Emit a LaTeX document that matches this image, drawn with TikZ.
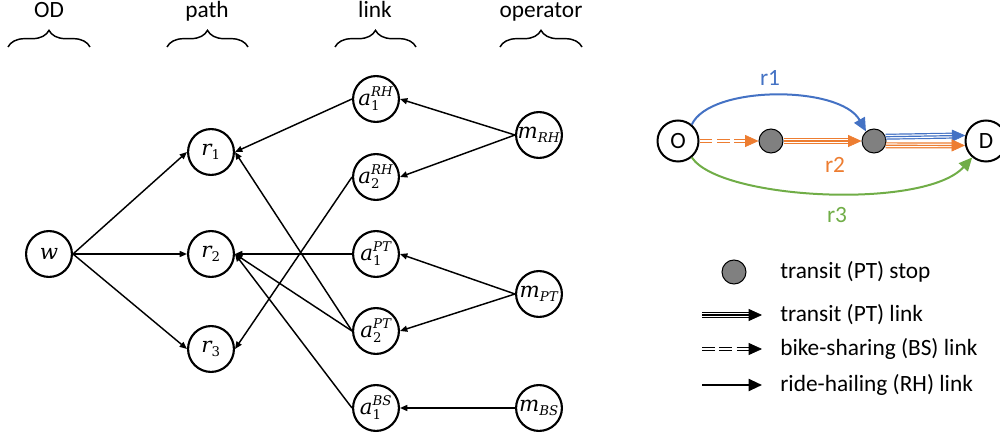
\documentclass[tikz,border=0pt]{standalone}
\usepackage{amsmath}
\usepackage{fontspec}
\setmainfont{Carlito}
\newfontfamily\lblfont{DejaVu Serif}
\newcommand\lbi[1]{\text{\lblfont\itshape #1}}
\newcommand\lbu[1]{\text{\lblfont #1}}
\DeclareMathSizes{16}{16}{10}{8}
\usetikzlibrary{arrows.meta,decorations.pathreplacing,calc}
\definecolor{cblue}{RGB}{68,114,196}
\definecolor{corange}{RGB}{237,125,49}
\definecolor{cgreen}{RGB}{112,173,71}
\definecolor{cstop}{RGB}{128,128,128}
\begin{document}
\begin{tikzpicture}[x=0.75pt,y=-0.75pt,
  every node/.style={inner sep=0pt},
  vnode/.style={circle, draw, line width=1.6pt, minimum size=34.4pt, font=\fontsize{16}{19}\selectfont},
  edge/.style={line width=1.1pt, -{Triangle[length=5.5pt,width=4.5pt]}},
  hdr/.style={font=\fontsize{17.5}{21}\selectfont, anchor=base},
  hbrace/.style={decorate, decoration={brace, amplitude=12.5pt}, line width=1.1pt},
  lbl/.style={font=\fontsize{17.5}{21}\selectfont},
  odnode/.style={circle, draw, line width=1.5pt, minimum size=30.75pt, font=\fontsize{17.5}{21}\selectfont},
  stopnode/.style={circle, draw, line width=0.75pt, fill=cstop, minimum size=18pt},
  bigtip/.style={-{Triangle[length=10pt,width=9pt]}, line width=0.5pt},
  tri/.style={draw=#1, line width=4.5pt, shorten >=7pt, postaction={draw=white, line width=2.7pt}, postaction={draw=#1, line width=0.9pt}},
  ddash/.style={draw=#1, double=white, line width=1.1pt, double distance=1.5pt, dash pattern=on 9.5pt off 3.5pt, shorten >=7pt},
  arc/.style={line width=1.5pt, -{Triangle[length=10pt,width=9pt]}},
]
\clip (0,0) rectangle (1000,438);
% headings
\node[hdr] (hOD) at (49,18) {OD};
\node[hdr] (hpath) at (207,18) {path};
\node[hdr] (hlink) at (375,18) {link};
\node[hdr] (hop) at (541,18) {operator};
\draw[hbrace] (8,47) -- (90,47);
\draw[hbrace] (167,47) -- (248,47);
\draw[hbrace] (335,47) -- (416,47);
\draw[hbrace] (500,47) -- (582,47);
% nodes
\node[vnode] (w) at (49,254) {$\lbi{w}$};
\node[vnode] (r1) at (211,152) {$\lbi{r}_{\lbu{1}}$};
\node[vnode] (r2) at (211,254) {$\lbi{r}_{\lbu{2}}$};
\node[vnode] (r3) at (211,349) {$\lbi{r}_{\lbu{3}}$};
\node[vnode] (a1RH) at (376,99) {$\lbi{a}_{\lbu{1}}^{\lbi{RH}}$};
\node[vnode] (a2RH) at (376,177) {$\lbi{a}_{\lbu{2}}^{\lbi{RH}}$};
\node[vnode] (a1PT) at (376,254) {$\lbi{a}_{\lbu{1}}^{\lbi{PT}}$};
\node[vnode] (a2PT) at (376,331) {$\lbi{a}_{\lbu{2}}^{\lbi{PT}}$};
\node[vnode] (a1BS) at (376,408) {$\lbi{a}_{\lbu{1}}^{\lbi{BS}}$};
\node[vnode] (mRH) at (539,135) {$\lbi{m}_{\lbi{RH}}$};
\node[vnode] (mPT) at (539,294) {$\lbi{m}_{\lbi{PT}}$};
\node[vnode] (mBS) at (539,408) {$\lbi{m}_{\lbi{BS}}$};
% edges
\draw[edge] (w.east) -- (r1.west);
\draw[edge] (w.east) -- (r2.west);
\draw[edge] (w.east) -- (r3.west);
\draw[edge] (a1RH.west) -- (r1.east);
\draw[edge] (a2RH.west) -- (r3.east);
\draw[edge] (a1PT.west) -- (r2.east);
\draw[edge] (a2PT.west) -- (r1.east);
\draw[edge] (a2PT.west) -- (r2.east);
\draw[edge] (a1BS.west) -- (r2.east);
\draw[edge] (mRH.west) -- (a1RH.east);
\draw[edge] (mRH.west) -- (a2RH.east);
\draw[edge] (mPT.west) -- (a1PT.east);
\draw[edge] (mPT.west) -- (a2PT.east);
\draw[edge] (mBS.west) -- (a1BS.east);
% right network
\node[odnode] (O) at (678,141) {O};
\node[stopnode] (s1) at (771,141) {};
\node[stopnode] (s2) at (874,141) {};
\node[odnode] (D) at (986,141) {D};
\draw[ddash=corange] (O.east) -- (s1.west);
\draw[bigtip, corange] ($(s1.west)+(-10pt,0)$) -- (s1.west);
\draw[tri=corange] (s1.east) -- (s2.west);
\draw[bigtip, corange] ($(s2.west)+(-10pt,0)$) -- (s2.west);
\draw[tri=cblue] (s2.20) -- (D.165);
\draw[bigtip, cblue] ($(D.165)!10pt!(s2.20)$) -- (D.165);
\draw[tri=corange] (s2.-20) -- (D.192);
\draw[bigtip, corange] ($(D.192)!10pt!(s2.-20)$) -- (D.192);
\draw[arc, cblue] (O.50) .. controls (710,85) and (840,85) .. (s2.130);
\draw[arc, cgreen] (O.-50) .. controls (720,200) and (925,210) .. (D.-130);
\node[lbl, text=cblue] (lr1) at (770,78) {r1};
\node[lbl, text=corange] (lr2) at (835,165) {r2};
\node[lbl, text=cgreen] (lr3) at (837,215) {r3};
% legend
\node[stopnode] (lstop) at (734,272) {};
\node[lbl, anchor=west] (t1) at (780,272) {transit (PT) stop};
\coordinate (l2a) at (702,315);
\coordinate (l2b) at (762,315);
\draw[tri=black] (l2a) -- (l2b);
\draw[bigtip] ($(l2b)+(-10pt,0)$) -- (l2b);
\node[lbl, anchor=west] (t2) at (780,315) {transit (PT) link};
\coordinate (l3a) at (702,349);
\coordinate (l3b) at (762,349);
\draw[ddash=black] (l3a) -- (l3b);
\draw[bigtip] ($(l3b)+(-10pt,0)$) -- (l3b);
\node[lbl, anchor=west] (t3) at (780,349) {bike-sharing (BS) link};
\coordinate (l4a) at (702,385);
\coordinate (l4b) at (762,385);
\draw[arc] (l4a) -- (l4b);
\node[lbl, anchor=west] (t4) at (780,385) {ride-hailing (RH) link};
\end{tikzpicture}
\end{document}
